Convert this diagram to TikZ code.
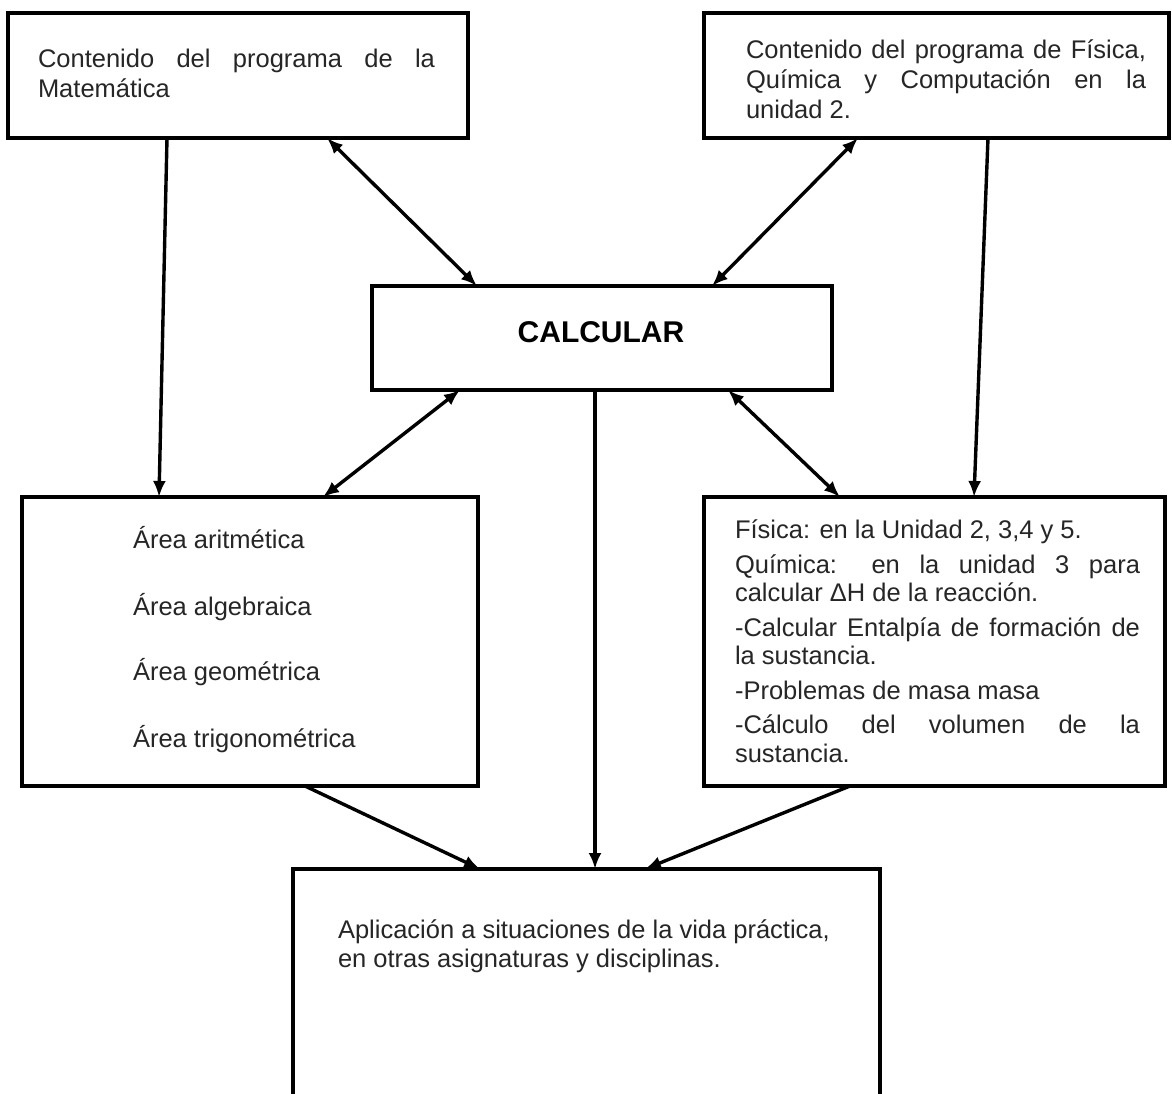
\documentclass[tikz,border=0pt]{standalone}
\usepackage{fontspec}
\setmainfont{Liberation Sans}
\usetikzlibrary{arrows.meta,calc}
\begin{document}
\begin{tikzpicture}[x=1pt,y=-1pt,
  box/.style={draw=black, line width=4pt, inner sep=0pt, outer sep=0pt, anchor=north west, fill=white},
  txt/.style={inner sep=0pt, outer sep=0pt, text=black!85, font=\fontsize{25.5}{30}\selectfont},
  para/.style={txt, anchor=north west, align=justify},
  arr/.style={line width=3.4pt, -{Latex[length=16pt,width=13pt]}},
  darr/.style={line width=3.4pt, {Latex[length=16pt,width=13pt]}-{Latex[length=16pt,width=13pt]}}]
\useasboundingbox (0,0) rectangle (1172,1093);
\fill[white] (0,0) rectangle (1172,1093);

% boxes
\node[box, minimum width=460pt, minimum height=125pt] (mat) at (8,13) {};
\node[box, minimum width=465pt, minimum height=125pt] (fis) at (704,13) {};
\node[box, minimum width=460pt, minimum height=104pt] (calc) at (372,286) {};
\node[box, minimum width=456pt, minimum height=289pt] (area) at (22,497) {};
\node[box, minimum width=461pt, minimum height=289pt] (quim) at (704,497) {};
\node[box, minimum width=587pt, minimum height=260pt] (apl) at (293,869) {};

% texts
\node[para, text width=397pt] (matt) at (38,49)
  {\parindent=0pt Contenido del programa de la\linebreak Matemática};
\node[para, text width=400pt] (fist) at (746,40)
  {\parindent=0pt Contenido del programa de Física,\linebreak Química y Computación en la\linebreak unidad 2.};
\node[txt, anchor=base, font=\bfseries\fontsize{30}{34}\selectfont, text=black] (calct) at (601,342) {CALCULAR};
\node[txt, anchor=base west] (a1) at (133,548) {Área aritmética};
\node[txt, anchor=base west] (a2) at (133,615) {Área algebraica};
\node[txt, anchor=base west] (a3) at (133,680) {Área geométrica};
\node[txt, anchor=base west] (a4) at (133,747) {Área trigonométrica};
\node[para, text width=405pt, font=\fontsize{25.5}{28.5}\selectfont] (quimt) at (735,520)
  {\parindent=0pt\parskip=6pt Física: en la Unidad 2, 3,4 y 5.\par
   Química: en la unidad 3 para\linebreak calcular ΔH de la reacción.\par
   -Calcular Entalpía de formación de\linebreak la sustancia.\par
   -Problemas de masa masa\par
   -Cálculo del volumen de la\linebreak sustancia.};
\node[txt, anchor=north west, align=left, font=\fontsize{25.5}{29}\selectfont] (aplt) at (338,920)
  {Aplicación a situaciones de la vida práctica,\\ en otras asignaturas y disciplinas.};

% connectors
\draw[arr] ($(mat.south west)+(159,0)$) -- ($(area.north west)+(137,0)$);
\draw[arr] ($(fis.south west)+(284,0)$) -- ($(quim.north west)+(270,0)$);
\draw[darr] ($(mat.south west)+(319,0)$) -- ($(calc.north west)+(105,0)$);
\draw[darr] ($(fis.south west)+(154,0)$) -- ($(calc.north west)+(340,0)$);
\draw[darr] ($(calc.south west)+(88,0)$) -- ($(area.north west)+(301,0)$);
\draw[darr] ($(calc.south west)+(356,0)$) -- ($(quim.north west)+(136,0)$);
\draw[arr] ($(calc.south west)+(223,0)$) -- ($(apl.north west)+(302,0)$);
\draw[arr] ($(area.south west)+(283,0)$) -- ($(apl.north west)+(187,0)$);
\draw[arr] ($(quim.south west)+(146,0)$) -- ($(apl.north west)+(352,0)$);
\end{tikzpicture}
\end{document}
